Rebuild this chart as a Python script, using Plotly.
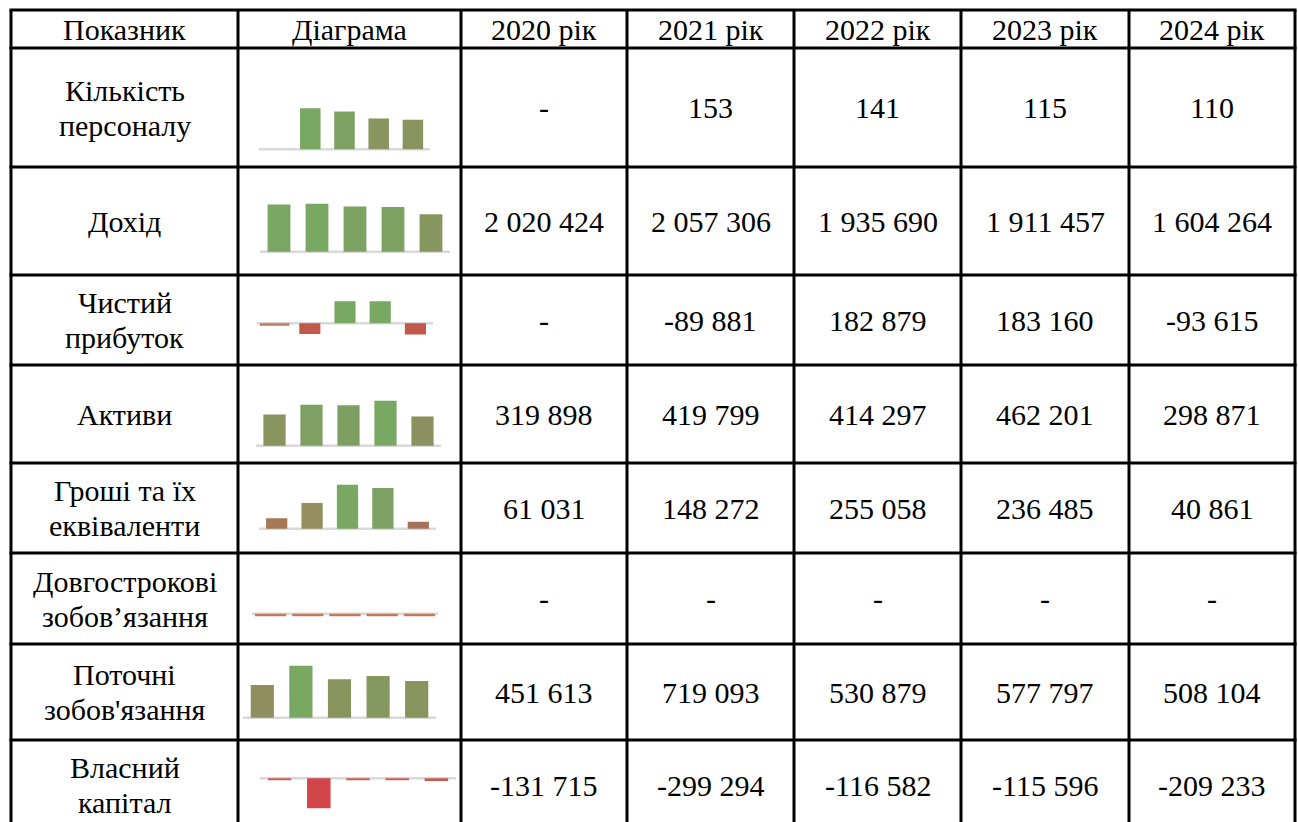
import plotly.graph_objects as go

# ---- table content ----
header = ["Показник", "Діаграма", "2020 рік", "2021 рік", "2022 рік", "2023 рік", "2024 рік"]

indicators = [
    "Кількість\nперсоналу",
    "Дохід",
    "Чистий\nприбуток",
    "Активи",
    "Гроші та їх\nеквіваленти",
    "Довгострокові\nзобов’язання",
    "Поточні\nзобов'язання",
    "Власний\nкапітал",
]

staff = [None, 153, 141, 115, 110]
income = [2020424, 2057306, 1935690, 1911457, 1604264]
net_profit = [None, -89881, 182879, 183160, -93615]
assets = [319898, 419799, 414297, 462201, 298871]
cash = [61031, 148272, 255058, 236485, 40861]
long_term = [None, None, None, None, None]
current_liab = [451613, 719093, 530879, 577797, 508104]
equity = [-131715, -299294, -116582, -115596, -209233]

table_rows = [staff, income, net_profit, assets, cash, long_term, current_liab, equity]

# ---- sparkline series (one per row) ----
spark_staff = [None, 153, 141, 115, 110]
spark_income = [2020424, 2057306, 1935690, 1911457, 1604264]
spark_profit = [0, -89881, 182879, 183160, -93615]
spark_assets = [319898, 419799, 414297, 462201, 298871]
spark_cash = [61031, 148272, 255058, 236485, 40861]
spark_long = [0, 0, 0, 0, 0]
spark_current = [451613, 719093, 530879, 577797, 508104]
spark_equity = [-20000, -299294, -20000, -20000, -28000]

spark_rows = [spark_staff, spark_income, spark_profit, spark_assets,
              spark_cash, spark_long, spark_current, spark_equity]

# ---- page geometry (pixels) ----
W, H = 1298, 822
col_edges = [11, 238, 461, 627, 794, 961, 1129, 1295]
row_edges = [10, 48, 167, 275, 365, 463, 553, 644, 740]
row_bottom = 830
text_y = [107.5, 221, 320, 414, 508, 598.5, 692, 785]

# sparkline boxes: left, right, baseline y, pixel height of largest bar
spark_geom = [
    (259, 430, 149.3, 41),
    (260, 450, 251.7, 48),
    (257, 433, 323.3, 22),
    (256, 441, 445.7, 45),
    (259, 436, 528.7, 44),
    (252, 438, 613.7, 20),
    (243, 436, 717.7, 52),
    (260, 456, 778.3, 30),
]
UP, DOWN = 62, 40

FONT = dict(family="Liberation Serif, Times New Roman, serif", size=30, color="black")

# colour scale over value / largest |value| in the row, mapped from [-1, 1]
spark_scale = [
    [0.0, "rgb(210,70,74)"],
    [0.25, "rgb(194,87,75)"],
    [0.475, "rgb(203,91,82)"],
    [0.5, "rgb(191,122,94)"],
    [0.58, "rgb(168,113,90)"],
    [0.62, "rgb(166,120,85)"],
    [0.79, "rgb(148,142,94)"],
    [0.825, "rgb(138,145,94)"],
    [0.89, "rgb(135,150,94)"],
    [0.95, "rgb(126,159,98)"],
    [1.0, "rgb(120,168,98)"],
]


def fmt(v):
    if v is None:
        return "-"
    return f"{v:,}".replace(",", " ")


fig = go.Figure()
shapes = []
annotations = []

# grid lines
for y in row_edges:
    shapes.append(dict(type="line", xref="x", yref="y", x0=col_edges[0] - 1.5, x1=col_edges[-1] + 1.5,
                       y0=y, y1=y, line=dict(color="black", width=3)))
for x in col_edges:
    shapes.append(dict(type="line", xref="x", yref="y", x0=x, x1=x,
                       y0=row_edges[0], y1=row_bottom, line=dict(color="black", width=3)))

col_centers = [(a + b) / 2 for a, b in zip(col_edges[:-1], col_edges[1:])]

# header
for cx, txt in zip(col_centers, header):
    annotations.append(dict(x=cx, y=29, xref="x", yref="y", text=txt, showarrow=False,
                            font=FONT, xanchor="center", yanchor="middle"))

# body text
LINE_GAP = 35
for i, (label, vals) in enumerate(zip(indicators, table_rows)):
    cy = text_y[i]
    lines = label.split("\n")
    n = len(lines)
    for k, ln in enumerate(lines):
        ly = cy + (k - (n - 1) / 2) * LINE_GAP
        annotations.append(dict(x=col_centers[0], y=ly, xref="x", yref="y", text=ln, showarrow=False,
                                font=FONT, xanchor="center", yanchor="middle"))
    for j, v in enumerate(vals):
        annotations.append(dict(x=col_centers[2 + j], y=cy, xref="x", yref="y", text=fmt(v),
                                showarrow=False, font=FONT, xanchor="center", yanchor="middle"))

layout_axes = {}
layout_axes["xaxis"] = dict(range=[0, W], domain=[0, 1], visible=False, fixedrange=True)
layout_axes["yaxis"] = dict(range=[H, 0], domain=[0, 1], visible=False, fixedrange=True)

# invisible anchor trace so the table axes exist
fig.add_trace(go.Scatter(x=[0, W], y=[0, H], mode="markers", marker=dict(opacity=0),
                         hoverinfo="skip", showlegend=False, xaxis="x", yaxis="y"))

slots = list(range(5))
for i, series in enumerate(spark_rows):
    n = i + 2
    xl, xr, base, hmax = spark_geom[i]
    nums = [v for v in series if v is not None]
    maxabs = max([abs(v) for v in nums] + [0])
    upp = maxabs / hmax if maxabs > 0 else 1.0
    ratios = [(v / maxabs if (v is not None and maxabs > 0) else 0) for v in series]

    layout_axes[f"xaxis{n}"] = dict(domain=[xl / W, xr / W], range=[-0.5, 4.5], visible=False,
                                    fixedrange=True, anchor=f"y{n}")
    layout_axes[f"yaxis{n}"] = dict(domain=[(H - (base + DOWN)) / H, (H - (base - UP)) / H],
                                    range=[-DOWN * upp, UP * upp], visible=False,
                                    fixedrange=True, anchor=f"x{n}")

    # axis line of the sparkline
    shapes.append(dict(type="line", xref=f"x{n} domain", yref=f"y{n}", x0=0, x1=1, y0=0, y1=0,
                       line=dict(color="#D9D9D9", width=2.5), layer="below"))

    fig.add_trace(go.Bar(
        x=slots, y=series, xaxis=f"x{n}", yaxis=f"y{n}", showlegend=False, hoverinfo="skip",
        marker=dict(color=ratios, colorscale=spark_scale, cmin=-1, cmax=1, line=dict(width=0)),
    ))

    # zero values appear as thin stubs on the axis line
    zx = [k for k, v in enumerate(series) if v == 0]
    if zx:
        bar_px = (xr - xl) / 5 * 0.6
        fig.add_trace(go.Scatter(
            x=zx, y=[-1.2 * upp] * len(zx), xaxis=f"x{n}", yaxis=f"y{n}", mode="markers",
            showlegend=False, hoverinfo="skip",
            marker=dict(symbol="line-ew", size=bar_px,
                        line=dict(width=2.5, color=[0.0] * len(zx), colorscale=spark_scale,
                                  cmin=-1, cmax=1)),
        ))

fig.update_layout(
    width=W, height=H,
    margin=dict(l=0, r=0, t=0, b=0),
    paper_bgcolor="white", plot_bgcolor="rgba(0,0,0,0)",
    bargap=0.4,
    shapes=shapes, annotations=annotations,
    showlegend=False,
    **layout_axes,
)

fig.write_html("out.html", config={"displayModeBar": False})
